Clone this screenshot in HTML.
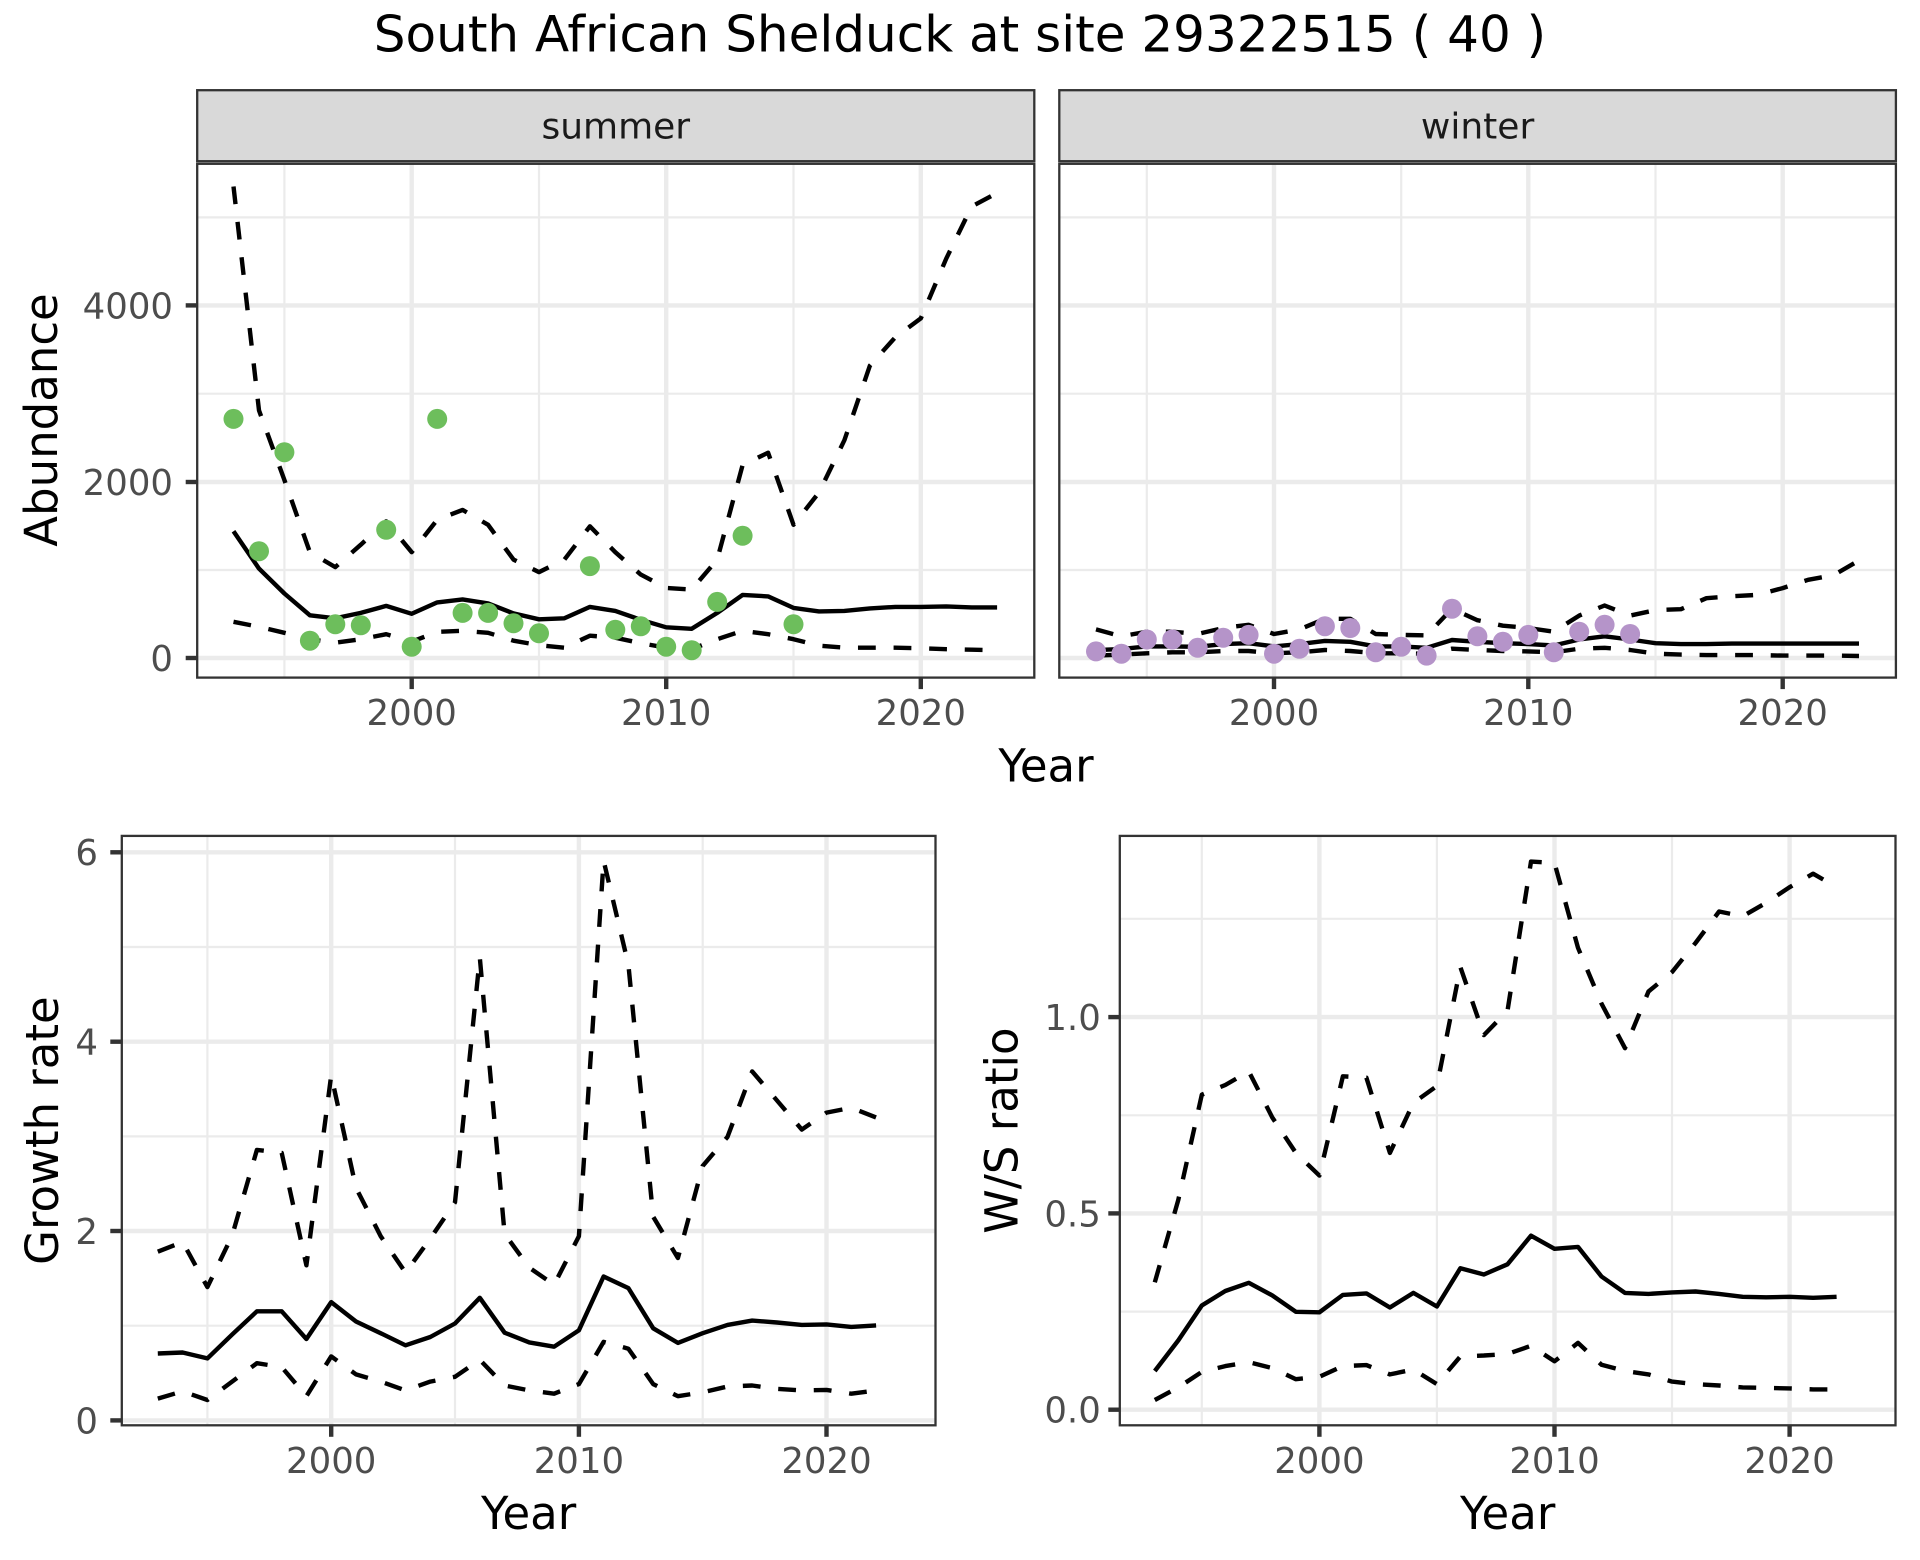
<!DOCTYPE html>
<html><head><meta charset="utf-8"><style>
html,body{margin:0;padding:0;background:#fff;}
svg{display:block;}
text{font-family:"DejaVu Sans","Liberation Sans",sans-serif;}
.tk{font-size:35.5px;fill:#4D4D4D;}
.at{font-size:45px;fill:#000;}
.st{font-size:36px;fill:#1A1A1A;}
.gM{stroke:#EBEBEB;stroke-width:4.4;}
.gm{stroke:#EBEBEB;stroke-width:2.2;}
.ln{fill:none;stroke:#000;stroke-width:4.4;stroke-linejoin:round;stroke-linecap:butt;}
.ds{stroke-dasharray:17.8 17.8;}
.bd{fill:none;stroke:#333;stroke-width:2.3;}
.tc{stroke:#333;stroke-width:4.4;}
</style></head><body>
<svg width="1920" height="1560" viewBox="0 0 1920 1560" xmlns="http://www.w3.org/2000/svg">
<rect width="1920" height="1560" fill="#fff"/>
<text x="960" y="51.7" font-size="50" text-anchor="middle" fill="#000">South African Shelduck at site 29322515 ( 40 )</text>

<!-- ===== SUMMER ===== -->
<rect x="197.2" y="163.8" width="837.1" height="513.8" fill="#fff"/>
<g>
<line class="gm" x1="197" x2="1034" y1="570.0" y2="570.0"/>
<line class="gm" x1="197" x2="1034" y1="393.7" y2="393.7"/>
<line class="gm" x1="197" x2="1034" y1="217.4" y2="217.4"/>
<line class="gm" x1="284.4" x2="284.4" y1="163" y2="677"/>
<line class="gm" x1="539.0" x2="539.0" y1="163" y2="677"/>
<line class="gm" x1="793.5" x2="793.5" y1="163" y2="677"/>
<line class="gM" x1="197" x2="1034" y1="658.0" y2="658.0"/>
<line class="gM" x1="197" x2="1034" y1="482.0" y2="482.0"/>
<line class="gM" x1="197" x2="1034" y1="305.4" y2="305.4"/>
<line class="gM" x1="411.7" x2="411.7" y1="163" y2="677"/>
<line class="gM" x1="666.2" x2="666.2" y1="163" y2="677"/>
<line class="gM" x1="920.8" x2="920.8" y1="163" y2="677"/>
</g>
<polyline class="ln" points="233.5,531.3 259.0,568.6 284.4,593.5 309.9,615.3 335.3,618.3 360.8,612.9 386.2,605.9 411.7,613.8 437.2,602.4 462.6,599.4 488.1,603.4 513.5,613.4 539.0,619.3 564.4,618.3 589.9,606.9 615.3,610.9 640.8,619.8 666.2,627.3 691.7,628.8 717.2,612.9 742.6,594.9 768.1,596.4 793.5,607.9 819.0,611.4 844.4,610.9 869.9,608.4 895.3,606.9 920.8,606.9 946.2,606.4 971.7,607.4 997.1,607.4"/>
<polyline class="ln ds" points="233.5,186.5 259.0,410.4 284.4,480.0 309.9,552.2 335.3,567.1 360.8,544.7 386.2,521.3 411.7,552.2 437.2,519.8 462.6,509.9 488.1,524.8 513.5,559.6 539.0,572.1 564.4,559.6 589.9,526.3 615.3,552.2 640.8,574.6 666.2,588.0 691.7,589.5 717.2,559.6 742.6,465.1 768.1,452.7 793.5,524.8 819.0,492.5 844.4,440.2 869.9,365.6 895.3,337.3 920.8,318.4 946.2,258.7 971.7,206.4 997.1,193.0"/>
<polyline class="ln ds" points="233.5,621.8 259.0,626.8 284.4,632.8 309.9,639.2 335.3,642.7 360.8,639.2 386.2,634.2 411.7,641.7 437.2,631.8 462.6,630.8 488.1,632.8 513.5,640.7 539.0,645.2 564.4,647.7 589.9,635.7 615.3,637.7 640.8,643.2 666.2,647.7 691.7,649.2 717.2,639.2 742.6,630.8 768.1,634.2 793.5,639.2 819.0,645.7 844.4,647.7 869.9,647.7 895.3,647.7 920.8,648.2 946.2,649.2 971.7,649.7 997.1,650.2"/>
<g fill="#6DBE5C">
<circle cx="233.5" cy="418.9" r="10"/><circle cx="259.0" cy="551.2" r="10"/><circle cx="284.4" cy="452.2" r="10"/>
<circle cx="309.9" cy="640.7" r="10"/><circle cx="335.3" cy="624.3" r="10"/><circle cx="360.8" cy="625.3" r="10"/>
<circle cx="386.2" cy="529.8" r="10"/><circle cx="411.7" cy="646.7" r="10"/><circle cx="437.2" cy="418.9" r="10"/>
<circle cx="462.6" cy="612.9" r="10"/><circle cx="488.1" cy="612.9" r="10"/><circle cx="513.5" cy="623.3" r="10"/>
<circle cx="539.0" cy="633.3" r="10"/><circle cx="589.9" cy="566.1" r="10"/><circle cx="615.3" cy="629.8" r="10"/>
<circle cx="640.8" cy="626.3" r="10"/><circle cx="666.2" cy="646.7" r="10"/><circle cx="691.7" cy="650.2" r="10"/>
<circle cx="717.2" cy="601.9" r="10"/><circle cx="742.6" cy="535.8" r="10"/><circle cx="793.5" cy="624.3" r="10"/>
</g>
<rect class="bd" x="197.2" y="163.8" width="837.1" height="513.8"/>
<rect x="197.2" y="90.2" width="837.1" height="71" fill="#D9D9D9" stroke="#333" stroke-width="2.3"/>
<text class="st" x="615.8" y="138.3" text-anchor="middle">summer</text>
<g class="tc">
<line x1="185.7" x2="197.2" y1="305.4" y2="305.4"/>
<line x1="185.7" x2="197.2" y1="482.0" y2="482.0"/>
<line x1="185.7" x2="197.2" y1="658.0" y2="658.0"/>
<line x1="411.7" x2="411.7" y1="677.6" y2="689.1"/>
<line x1="666.2" x2="666.2" y1="677.6" y2="689.1"/>
<line x1="920.8" x2="920.8" y1="677.6" y2="689.1"/>
</g>
<g class="tk" text-anchor="end">
<text x="173" y="318.3">4000</text>
<text x="173" y="494.9">2000</text>
<text x="173" y="670.9">0</text>
</g>
<g class="tk" text-anchor="middle">
<text x="411.7" y="725">2000</text>
<text x="666.2" y="725">2010</text>
<text x="920.8" y="725">2020</text>
</g>

<!-- ===== WINTER ===== -->
<rect x="1059.3" y="163.8" width="836.6" height="513.8" fill="#fff"/>
<g>
<line class="gm" x1="1059" x2="1896" y1="570.0" y2="570.0"/>
<line class="gm" x1="1059" x2="1896" y1="393.7" y2="393.7"/>
<line class="gm" x1="1059" x2="1896" y1="217.4" y2="217.4"/>
<line class="gm" x1="1146.8" x2="1146.8" y1="163" y2="677"/>
<line class="gm" x1="1401.2" x2="1401.2" y1="163" y2="677"/>
<line class="gm" x1="1655.5" x2="1655.5" y1="163" y2="677"/>
<line class="gM" x1="1059" x2="1896" y1="658.0" y2="658.0"/>
<line class="gM" x1="1059" x2="1896" y1="482.0" y2="482.0"/>
<line class="gM" x1="1059" x2="1896" y1="305.4" y2="305.4"/>
<line class="gM" x1="1274.0" x2="1274.0" y1="163" y2="677"/>
<line class="gM" x1="1528.3" x2="1528.3" y1="163" y2="677"/>
<line class="gM" x1="1782.7" x2="1782.7" y1="163" y2="677"/>
</g>
<polyline class="ln" points="1096.0,650.1 1121.4,649.1 1146.8,646.4 1172.3,646.4 1197.7,646.8 1223.2,644.1 1248.6,643.2 1274.0,646.4 1299.4,644.1 1324.9,640.9 1350.3,641.8 1375.7,646.4 1401.2,646.4 1426.6,647.8 1452.0,640.0 1477.4,641.8 1502.9,643.2 1528.3,644.1 1553.8,645.5 1579.2,639.5 1604.6,636.3 1630.1,639.5 1655.5,643.2 1680.9,644.1 1706.4,644.1 1731.8,643.6 1757.2,643.6 1782.7,643.6 1808.1,643.6 1833.5,643.6 1859.0,643.6"/>
<polyline class="ln ds" points="1096.0,629.4 1121.4,636.3 1146.8,631.7 1172.3,631.7 1197.7,634.0 1223.2,628.0 1248.6,624.8 1274.0,634.0 1299.4,629.4 1324.9,618.8 1350.3,618.8 1375.7,634.0 1401.2,634.9 1426.6,635.4 1452.0,608.7 1477.4,620.2 1502.9,625.7 1528.3,628.0 1553.8,631.7 1579.2,615.6 1604.6,605.5 1630.1,615.6 1655.5,610.1 1680.9,609.2 1706.4,598.2 1731.8,596.3 1757.2,594.9 1782.7,588.1 1808.1,579.8 1833.5,575.2 1859.0,560.5"/>
<polyline class="ln ds" points="1096.0,655.6 1121.4,654.6 1146.8,653.3 1172.3,652.3 1197.7,652.3 1223.2,651.0 1248.6,651.0 1274.0,653.3 1299.4,652.3 1324.9,650.0 1350.3,651.0 1375.7,653.3 1401.2,653.3 1426.6,653.7 1452.0,648.7 1477.4,650.0 1502.9,651.0 1528.3,651.4 1553.8,652.3 1579.2,648.7 1604.6,647.8 1630.1,650.0 1655.5,653.7 1680.9,654.6 1706.4,655.1 1731.8,655.1 1757.2,655.1 1782.7,655.6 1808.1,655.6 1833.5,655.6 1859.0,656.0"/>
<g fill="#B594C9">
<circle cx="1096.0" cy="651.4" r="10"/><circle cx="1121.4" cy="653.7" r="10"/><circle cx="1146.8" cy="639.5" r="10"/>
<circle cx="1172.3" cy="639.5" r="10"/><circle cx="1197.7" cy="647.8" r="10"/><circle cx="1223.2" cy="637.7" r="10"/>
<circle cx="1248.6" cy="634.9" r="10"/><circle cx="1274.0" cy="653.7" r="10"/><circle cx="1299.4" cy="648.7" r="10"/>
<circle cx="1324.9" cy="626.2" r="10"/><circle cx="1350.3" cy="628.0" r="10"/><circle cx="1375.7" cy="652.3" r="10"/>
<circle cx="1401.2" cy="646.8" r="10"/><circle cx="1426.6" cy="655.6" r="10"/><circle cx="1452.0" cy="608.7" r="10"/>
<circle cx="1477.4" cy="636.3" r="10"/><circle cx="1502.9" cy="641.8" r="10"/><circle cx="1528.3" cy="634.9" r="10"/>
<circle cx="1553.8" cy="652.3" r="10"/><circle cx="1579.2" cy="631.7" r="10"/><circle cx="1604.6" cy="624.8" r="10"/>
<circle cx="1630.1" cy="634.0" r="10"/>
</g>
<rect class="bd" x="1059.3" y="163.8" width="836.6" height="513.8"/>
<rect x="1059.3" y="90.2" width="836.6" height="71" fill="#D9D9D9" stroke="#333" stroke-width="2.3"/>
<text class="st" x="1477.6" y="138.3" text-anchor="middle">winter</text>
<g class="tc">
<line x1="1274.0" x2="1274.0" y1="677.6" y2="689.1"/>
<line x1="1528.3" x2="1528.3" y1="677.6" y2="689.1"/>
<line x1="1782.7" x2="1782.7" y1="677.6" y2="689.1"/>
</g>
<g class="tk" text-anchor="middle">
<text x="1274.0" y="725">2000</text>
<text x="1528.3" y="725">2010</text>
<text x="1782.7" y="725">2020</text>
</g>
<text class="at" transform="translate(57,420) rotate(-90)" text-anchor="middle">Abundance</text>
<text class="at" x="1046" y="781.7" text-anchor="middle">Year</text>

<!-- ===== GROWTH RATE ===== -->
<g>
<line class="gm" x1="122" x2="935" y1="1325.7" y2="1325.7"/>
<line class="gm" x1="122" x2="935" y1="1136.4" y2="1136.4"/>
<line class="gm" x1="122" x2="935" y1="947.0" y2="947.0"/>
<line class="gm" x1="207.4" x2="207.4" y1="836" y2="1425"/>
<line class="gm" x1="455.0" x2="455.0" y1="836" y2="1425"/>
<line class="gm" x1="702.7" x2="702.7" y1="836" y2="1425"/>
<line class="gM" x1="122" x2="935" y1="1420.4" y2="1420.4"/>
<line class="gM" x1="122" x2="935" y1="1231.0" y2="1231.0"/>
<line class="gM" x1="122" x2="935" y1="1041.7" y2="1041.7"/>
<line class="gM" x1="122" x2="935" y1="852.3" y2="852.3"/>
<line class="gM" x1="331.2" x2="331.2" y1="836" y2="1425"/>
<line class="gM" x1="578.9" x2="578.9" y1="836" y2="1425"/>
<line class="gM" x1="826.5" x2="826.5" y1="836" y2="1425"/>
</g>
<polyline class="ln" points="157.8,1353.5 182.6,1352.5 207.4,1358.4 232.1,1334.6 256.9,1311.3 281.7,1311.3 306.4,1339.0 331.2,1302.1 356.0,1321.5 380.7,1333.2 405.5,1345.3 430.3,1337.0 455.0,1323.5 479.8,1297.8 504.6,1332.7 529.3,1342.4 554.1,1346.7 578.9,1330.3 603.6,1276.5 628.4,1288.1 653.2,1328.3 677.9,1342.9 702.7,1333.2 727.5,1324.9 752.2,1320.6 777.0,1322.5 801.8,1324.9 826.5,1324.4 851.3,1326.9 876.1,1325.4"/>
<polyline class="ln ds" points="157.8,1251.7 182.6,1242.0 207.4,1287.1 232.1,1235.7 256.9,1149.9 281.7,1152.9 306.4,1265.3 331.2,1075.3 356.0,1187.8 380.7,1236.2 405.5,1272.6 430.3,1238.6 455.0,1202.3 479.8,957.5 504.6,1233.8 529.3,1267.7 554.1,1284.7 578.9,1236.2 603.6,860.6 628.4,964.8 653.2,1216.8 677.9,1258.0 702.7,1165.9 727.5,1136.9 752.2,1071.4 777.0,1100.5 801.8,1129.6 826.5,1112.6 851.3,1107.8 876.1,1117.5"/>
<polyline class="ln ds" points="157.8,1398.6 182.6,1391.3 207.4,1400.0 232.1,1381.6 256.9,1363.2 281.7,1367.1 306.4,1396.2 331.2,1356.4 356.0,1374.4 380.7,1381.6 405.5,1390.4 430.3,1381.6 455.0,1376.8 479.8,1359.8 504.6,1385.5 529.3,1390.4 554.1,1393.7 578.9,1384.1 603.6,1341.9 628.4,1348.7 653.2,1384.1 677.9,1396.2 702.7,1392.3 727.5,1386.5 752.2,1385.5 777.0,1388.9 801.8,1390.4 826.5,1389.9 851.3,1393.7 876.1,1390.4"/>
<rect class="bd" x="121.8" y="835.9" width="813.7" height="589.4"/>
<g class="tc">
<line x1="110.3" x2="121.8" y1="1420.4" y2="1420.4"/>
<line x1="110.3" x2="121.8" y1="1231.0" y2="1231.0"/>
<line x1="110.3" x2="121.8" y1="1041.7" y2="1041.7"/>
<line x1="110.3" x2="121.8" y1="852.3" y2="852.3"/>
<line x1="331.2" x2="331.2" y1="1425.3" y2="1436.8"/>
<line x1="578.9" x2="578.9" y1="1425.3" y2="1436.8"/>
<line x1="826.5" x2="826.5" y1="1425.3" y2="1436.8"/>
</g>
<g class="tk" text-anchor="end">
<text x="98" y="1433.3">0</text>
<text x="98" y="1243.9">2</text>
<text x="98" y="1054.6">4</text>
<text x="98" y="865.2">6</text>
</g>
<g class="tk" text-anchor="middle">
<text x="331.2" y="1472.8">2000</text>
<text x="578.9" y="1472.8">2010</text>
<text x="826.5" y="1472.8">2020</text>
</g>
<text class="at" transform="translate(58,1130.6) rotate(-90)" text-anchor="middle">Growth rate</text>
<text class="at" x="528.6" y="1529" text-anchor="middle">Year</text>

<!-- ===== W/S RATIO ===== -->
<g>
<line class="gm" x1="1120" x2="1895" y1="1311.6" y2="1311.6"/>
<line class="gm" x1="1120" x2="1895" y1="1115.3" y2="1115.3"/>
<line class="gm" x1="1120" x2="1895" y1="918.8" y2="918.8"/>
<line class="gm" x1="1201.8" x2="1201.8" y1="836" y2="1425"/>
<line class="gm" x1="1436.9" x2="1436.9" y1="836" y2="1425"/>
<line class="gm" x1="1672.0" x2="1672.0" y1="836" y2="1425"/>
<line class="gM" x1="1120" x2="1895" y1="1409.7" y2="1409.7"/>
<line class="gM" x1="1120" x2="1895" y1="1213.4" y2="1213.4"/>
<line class="gM" x1="1120" x2="1895" y1="1017.1" y2="1017.1"/>
<line class="gM" x1="1319.4" x2="1319.4" y1="836" y2="1425"/>
<line class="gM" x1="1554.5" x2="1554.5" y1="836" y2="1425"/>
<line class="gM" x1="1789.6" x2="1789.6" y1="836" y2="1425"/>
</g>
<polyline class="ln" points="1154.8,1371.0 1178.3,1340.4 1201.8,1305.5 1225.3,1291.0 1248.8,1282.8 1272.3,1295.4 1295.9,1311.8 1319.4,1312.3 1342.9,1294.9 1366.4,1293.4 1389.9,1307.5 1413.4,1292.9 1436.9,1306.5 1460.4,1268.2 1483.9,1274.5 1507.5,1264.3 1531.0,1235.7 1554.5,1248.8 1578.0,1246.9 1601.5,1276.5 1625.0,1292.9 1648.5,1293.9 1672.0,1292.4 1695.5,1291.5 1719.1,1293.9 1742.6,1296.8 1766.1,1297.3 1789.6,1296.8 1813.1,1297.8 1836.6,1296.8"/>
<polyline class="ln ds" points="1154.8,1282.3 1178.3,1199.9 1201.8,1094.7 1225.3,1085.0 1248.8,1071.4 1272.3,1117.5 1295.9,1152.9 1319.4,1175.6 1342.9,1076.3 1366.4,1077.7 1389.9,1152.9 1413.4,1102.9 1436.9,1086.0 1460.4,967.2 1483.9,1035.1 1507.5,1010.8 1531.0,861.6 1554.5,863.0 1578.0,947.8 1601.5,1003.6 1625.0,1048.2 1648.5,991.5 1672.0,972.1 1695.5,943.0 1719.1,911.5 1742.6,916.3 1766.1,902.8 1789.6,887.2 1813.1,873.7 1836.6,887.2"/>
<polyline class="ln ds" points="1154.8,1400.0 1178.3,1387.4 1201.8,1371.9 1225.3,1366.1 1248.8,1362.2 1272.3,1368.1 1295.9,1379.2 1319.4,1376.8 1342.9,1366.1 1366.4,1365.1 1389.9,1374.4 1413.4,1369.5 1436.9,1384.1 1460.4,1356.4 1483.9,1355.5 1507.5,1354.0 1531.0,1345.8 1554.5,1361.3 1578.0,1342.9 1601.5,1364.7 1625.0,1371.0 1648.5,1374.4 1672.0,1381.6 1695.5,1384.1 1719.1,1385.5 1742.6,1387.4 1766.1,1387.9 1789.6,1388.4 1813.1,1389.4 1836.6,1389.4"/>
<rect class="bd" x="1119.8" y="835.9" width="775.7" height="589.4"/>
<g class="tc">
<line x1="1108.3" x2="1119.8" y1="1409.7" y2="1409.7"/>
<line x1="1108.3" x2="1119.8" y1="1213.4" y2="1213.4"/>
<line x1="1108.3" x2="1119.8" y1="1017.1" y2="1017.1"/>
<line x1="1319.4" x2="1319.4" y1="1425.3" y2="1436.8"/>
<line x1="1554.5" x2="1554.5" y1="1425.3" y2="1436.8"/>
<line x1="1789.6" x2="1789.6" y1="1425.3" y2="1436.8"/>
</g>
<g class="tk" text-anchor="end">
<text x="1100.8" y="1422.6">0.0</text>
<text x="1100.8" y="1226.3">0.5</text>
<text x="1100.8" y="1030.0">1.0</text>
</g>
<g class="tk" text-anchor="middle">
<text x="1319.4" y="1472.8">2000</text>
<text x="1554.5" y="1472.8">2010</text>
<text x="1789.6" y="1472.8">2020</text>
</g>
<text class="at" transform="translate(1017.5,1130.6) rotate(-90)" text-anchor="middle">W/S ratio</text>
<text class="at" x="1507.7" y="1529" text-anchor="middle">Year</text>
</svg>
</body></html>
